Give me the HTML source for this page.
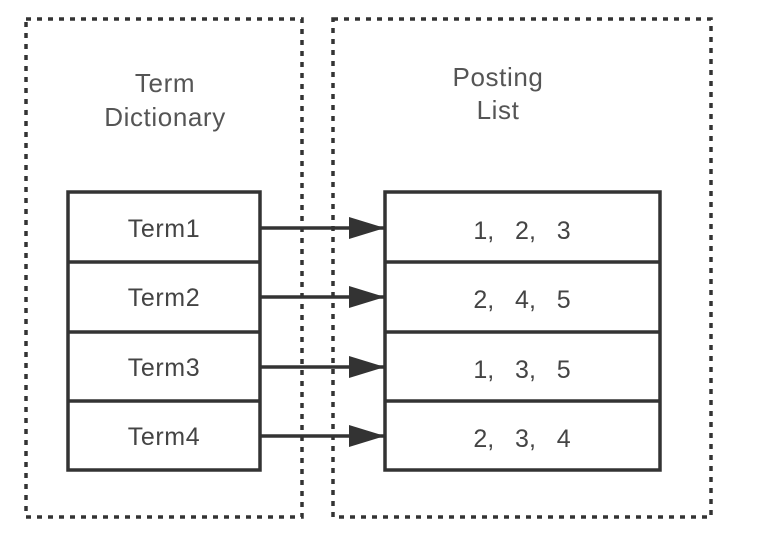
<!DOCTYPE html>
<html><head><meta charset="utf-8"><style>
body{margin:0;background:#fff;}
svg{display:block;font-family:"Liberation Sans",sans-serif;}
.pre{white-space:pre;}
</style></head><body>
<svg width="758" height="533" viewBox="0 0 758 533">
<defs>
<marker id="ah2" viewBox="0 0 36 22" markerWidth="36" markerHeight="22" refX="36" refY="11" orient="auto" markerUnits="userSpaceOnUse"><path d="M0,0 L36,11 L0,22 Z" fill="#333"/></marker></defs>
<rect x="26" y="19" width="276" height="498" fill="none" stroke="#333" stroke-width="3.5" stroke-dasharray="5 6"/>
<rect x="333" y="19" width="378" height="498" fill="none" stroke="#333" stroke-width="3.5" stroke-dasharray="5 6"/>
<text x="165" y="92" font-size="26" letter-spacing="0.6" fill="#555" text-anchor="middle"><tspan x="165">Term</tspan><tspan x="165" dy="34">Dictionary</tspan></text>
<text x="498" y="86" font-size="26" letter-spacing="0.6" fill="#555" text-anchor="middle"><tspan x="498">Posting</tspan><tspan x="498" dy="33">List</tspan></text>
<g fill="none" stroke="#333" stroke-width="3.5">
<rect x="68" y="192" width="192" height="278"/>
<line x1="68" y1="262" x2="260" y2="262"/><line x1="68" y1="332" x2="260" y2="332"/><line x1="68" y1="401" x2="260" y2="401"/>
<rect x="385" y="192" width="275" height="278"/>
<line x1="385" y1="262" x2="660" y2="262"/><line x1="385" y1="332" x2="660" y2="332"/><line x1="385" y1="401" x2="660" y2="401"/>
</g>
<g font-size="25" letter-spacing="0.6" fill="#444" text-anchor="middle">
<text x="164" y="237">Term1</text>
<text x="164" y="306">Term2</text>
<text x="164" y="376">Term3</text>
<text x="164" y="445">Term4</text>
</g>
<g font-size="25" fill="#444" text-anchor="middle">
<text class="pre" x="522" y="239">1,   2,   3</text>
<text class="pre" x="522" y="308">2,   4,   5</text>
<text class="pre" x="522" y="378">1,   3,   5</text>
<text class="pre" x="522" y="447">2,   3,   4</text>
</g>
<g stroke="#333" stroke-width="3.5" marker-end="url(#ah2)">
<line x1="260" y1="228" x2="385" y2="228"/>
<line x1="260" y1="297" x2="385" y2="297"/>
<line x1="260" y1="367" x2="385" y2="367"/>
<line x1="260" y1="436" x2="385" y2="436"/>
</g>
</svg>
</body></html>
